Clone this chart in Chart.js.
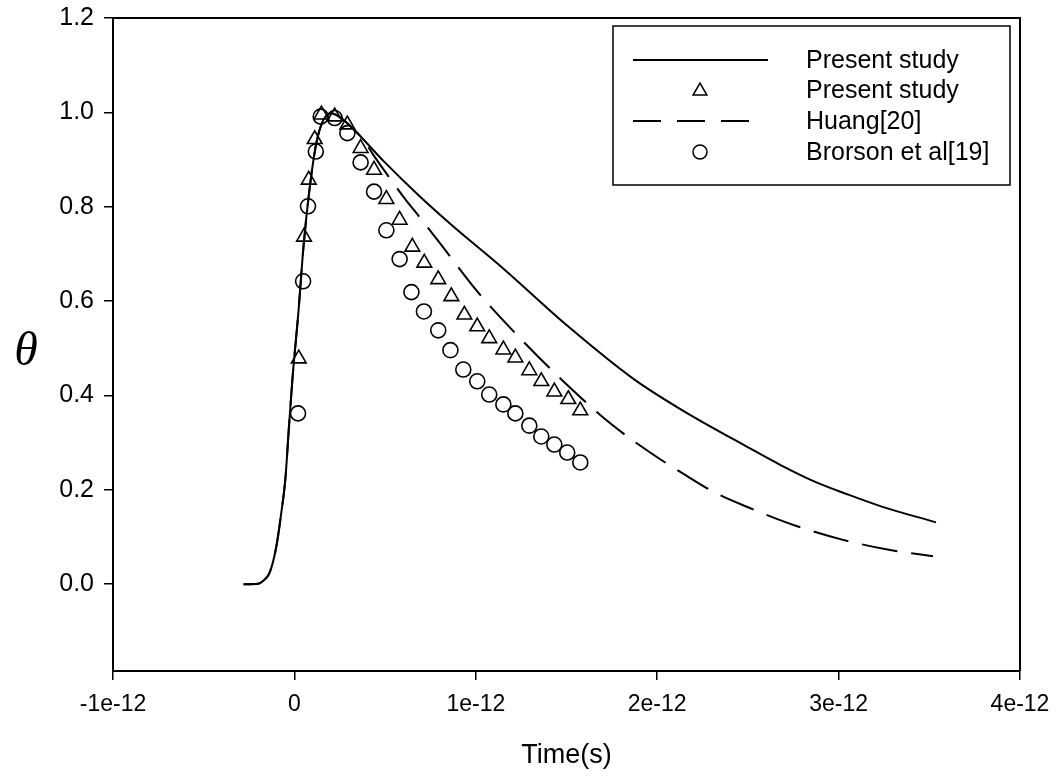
<!DOCTYPE html>
<html>
<head>
<meta charset="utf-8">
<script src="https://cdn.jsdelivr.net/npm/chart.js@4/dist/chart.umd.min.js"></script>
<style>
html,body{margin:0;padding:0;background:#fff;}
canvas{display:block;}
</style>
</head>
<body>
<canvas id="c" width="1058" height="782"></canvas>
<script>
// ---- data (time in units of 1e-12 s) ----
const xTickValues = [-1, 0, 1, 2, 3, 4];
const xTickLabels = ['-1e-12', '0', '1e-12', '2e-12', '3e-12', '4e-12'];
const yTickValues = [0, 0.2, 0.4, 0.6, 0.8, 1.0, 1.2];
const yTickLabels = ['0.0', '0.2', '0.4', '0.6', '0.8', '1.0', '1.2'];

const presentLineT = [-0.28,-0.2,-0.172,-0.136,-0.099,-0.072,-0.05,-0.031,-0.011,0.022,0.05,0.083,0.121,0.16,0.204,0.25,0.314,0.496,0.683,0.865,1.14,1.51,1.873,2.132,2.501,2.683,2.865,3.052,3.234,3.537];
const presentLineTheta = [0,0.001,0.007,0.025,0.081,0.152,0.222,0.328,0.434,0.576,0.715,0.836,0.935,0.984,0.998,0.99,0.969,0.895,0.825,0.762,0.673,0.546,0.434,0.370,0.290,0.252,0.218,0.190,0.165,0.131];

const presentMarkT = [0.024,0.053,0.079,0.112,0.149,0.222,0.292,0.365,0.439,0.507,0.580,0.650,0.716,0.793,0.865,0.937,1.008,1.074,1.152,1.218,1.295,1.361,1.433,1.510,1.576];
const presentMarkTheta = [0.478,0.736,0.857,0.943,0.995,0.991,0.974,0.924,0.878,0.816,0.772,0.715,0.681,0.646,0.610,0.571,0.546,0.521,0.497,0.480,0.453,0.430,0.408,0.392,0.368];

const huangT = [-0.28,-0.2,-0.172,-0.136,-0.099,-0.072,-0.05,-0.031,-0.011,0.022,0.05,0.083,0.121,0.16,0.204,0.25,0.314,0.38,0.435,0.617,0.672,0.80,1.014,1.24,1.488,1.741,2.0,2.132,2.314,2.501,2.755,3.014,3.262,3.52];
const huangTheta = [0,0.001,0.007,0.025,0.081,0.152,0.222,0.328,0.434,0.576,0.715,0.836,0.935,0.984,0.998,0.99,0.969,0.942,0.910,0.813,0.787,0.724,0.618,0.523,0.428,0.341,0.269,0.237,0.195,0.163,0.125,0.095,0.074,0.059];

const brorsonT = [0.020,0.048,0.075,0.118,0.145,0.222,0.292,0.365,0.439,0.507,0.580,0.645,0.714,0.793,0.860,0.931,1.008,1.074,1.152,1.218,1.295,1.361,1.433,1.504,1.576];
const brorsonTheta = [0.362,0.642,0.801,0.917,0.991,0.988,0.956,0.894,0.832,0.750,0.689,0.619,0.578,0.538,0.496,0.455,0.430,0.402,0.381,0.362,0.336,0.313,0.296,0.279,0.258];

const seriesLabels = ['Present study', 'Present study', 'Huang[20]', 'Brorson et al[19]'];

const X_MIN = -1, X_MAX = 4, Y_MIN = -0.184, Y_MAX = 1.2;

const pts = (xs, ys) => xs.map((x, i) => ({x: x, y: ys[i]}));
const FONT = '"Liberation Sans", Arial, sans-serif';

const framePlugin = {
  id: 'frame',
  afterDatasetsDraw(chart) {
    const {ctx, chartArea: a} = chart;
    ctx.save();
    ctx.strokeStyle = '#000';
    ctx.lineWidth = 2;
    ctx.beginPath();
    ctx.moveTo(a.left, a.top);
    ctx.lineTo(a.right, a.top);
    ctx.lineTo(a.right, a.bottom);
    ctx.stroke();
    ctx.restore();
  }
};

const thetaPlugin = {
  id: 'thetaTitle',
  afterDraw(chart) {
    const {ctx, chartArea: a} = chart;
    ctx.save();
    ctx.fillStyle = '#000';
    ctx.font = 'italic 48px "Liberation Serif", "DejaVu Serif", serif';
    ctx.textAlign = 'center';
    ctx.textBaseline = 'middle';
    ctx.fillText('\u03B8', 26, (a.top + a.bottom) / 2 + 8);
    ctx.restore();
  }
};

const legendPlugin = {
  id: 'boxLegend',
  afterDraw(chart) {
    const {ctx} = chart;
    const box = {l: 613, t: 26, r: 1010, b: 185};
    const rows = [60, 90, 121, 152];
    ctx.save();
    ctx.fillStyle = '#fff';
    ctx.fillRect(box.l, box.t, box.r - box.l, box.b - box.t);
    ctx.strokeStyle = '#000';
    ctx.lineWidth = 1.5;
    ctx.strokeRect(box.l, box.t, box.r - box.l, box.b - box.t);
    chart.data.datasets.forEach((ds, i) => {
      const y = rows[i];
      ctx.strokeStyle = '#000';
      ctx.lineWidth = 2;
      if (ds.showLine) {
        ctx.setLineDash(ds.borderDash ? [28, 16] : []);
        ctx.beginPath();
        ctx.moveTo(633, y);
        ctx.lineTo(ds.borderDash ? 755 : 768, y);
        ctx.stroke();
        ctx.setLineDash([]);
      } else {
        ctx.lineWidth = 1.5;
        ctx.fillStyle = 'rgba(0,0,0,0)';
        Chart.helpers.drawPoint(ctx, {pointStyle: ds.pointStyle, radius: ds.pointStyle === 'triangle' ? 8 : 7, borderWidth: 1.5}, 700, y + (ds.pointStyle === 'triangle' ? 1 : 0));
      }
      ctx.fillStyle = '#000';
      ctx.font = '25px ' + FONT;
      ctx.textAlign = 'left';
      ctx.textBaseline = 'middle';
      ctx.fillText(ds.label, 806, y + 1);
    });
    ctx.restore();
  }
};

new Chart(document.getElementById('c').getContext('2d'), {
  type: 'scatter',
  data: {
    datasets: [
      {label: seriesLabels[0], data: pts(presentLineT, presentLineTheta), showLine: true,
       borderColor: '#000', borderWidth: 2, pointRadius: 0, cubicInterpolationMode: 'monotone', fill: false},
      {label: seriesLabels[1], data: pts(presentMarkT, presentMarkTheta), showLine: false,
       pointStyle: 'triangle', pointRadius: 8.5, borderColor: '#000', backgroundColor: 'rgba(0,0,0,0)', borderWidth: 1.6},
      {label: seriesLabels[2], data: pts(huangT, huangTheta), showLine: true,
       borderColor: '#000', borderWidth: 2, borderDash: [36, 14], pointRadius: 0, cubicInterpolationMode: 'monotone', fill: false},
      {label: seriesLabels[3], data: pts(brorsonT, brorsonTheta), showLine: false,
       pointStyle: 'circle', pointRadius: 7.5, borderColor: '#000', backgroundColor: 'rgba(0,0,0,0)', borderWidth: 1.6}
    ]
  },
  options: {
    responsive: false,
    animation: false,
    events: [],
    layout: {padding: {left: 0, top: 18, right: 38, bottom: 0}},
    plugins: {legend: {display: false}, tooltip: {enabled: false}},
    scales: {
      x: {
        type: 'linear', min: X_MIN, max: X_MAX,
        afterBuildTicks: s => { s.ticks = xTickValues.map(v => ({value: v})); },
        afterFit: s => { s.height = 111; s.paddingLeft = 0; s.paddingRight = 0; },
        ticks: {
          callback: v => xTickLabels[xTickValues.indexOf(v)],
          font: {family: FONT, size: 23}, color: '#000', padding: 11, maxRotation: 0, autoSkip: false
        },
        grid: {drawOnChartArea: false, tickLength: 9, color: '#000', lineWidth: 1.5},
        border: {color: '#000', width: 2},
        title: {display: true, text: 'Time(s)', font: {family: FONT, size: 27}, color: '#000', padding: {top: 0, bottom: 10}}
      },
      y: {
        type: 'linear', min: Y_MIN, max: Y_MAX,
        afterBuildTicks: s => { s.ticks = yTickValues.map(v => ({value: v})); },
        afterFit: s => { s.width = 113; s.paddingTop = 0; s.paddingBottom = 0; },
        ticks: {
          callback: v => yTickLabels[yTickValues.indexOf(v)],
          font: {family: FONT, size: 25}, color: '#000', padding: 10, autoSkip: false
        },
        grid: {drawOnChartArea: false, tickLength: 9, color: '#000', lineWidth: 1.5},
        border: {color: '#000', width: 2}
      }
    }
  },
  plugins: [framePlugin, thetaPlugin, legendPlugin]
});
</script>
</body>
</html>
